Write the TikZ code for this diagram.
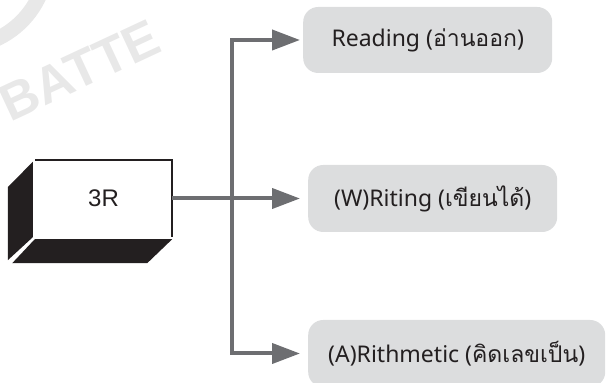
\documentclass[tikz,border=0pt]{standalone}
\usepackage{fontspec}
\setmainfont{Noto Sans}
\newfontfamily\thaifont[Script=Thai]{Loma}
\newfontfamily\boxfont{Liberation Sans}
\usetikzlibrary{arrows.meta}
\definecolor{linkgray}{HTML}{6D6E71}
\definecolor{boxgray}{HTML}{DCDDDE}
\definecolor{inkgray}{HTML}{231F20}
\definecolor{wmgray}{HTML}{E8E8E8}

\begin{document}
\begin{tikzpicture}[x=1pt,y=1pt,
    front/.style={minimum width=137pt,minimum height=77pt,inner sep=0pt,text=inkgray,
      font=\boxfont\fontsize{24}{28}\selectfont},
    item/.style={anchor=west,rounded corners=15pt,fill=boxgray,minimum height=66pt,
      text=inkgray,font=\fontsize{23}{26}\selectfont},
    link/.style={draw=linkgray,line width=4pt},
    tip/.style={-{Triangle[length=28pt,width=20pt]}}]
   \useasboundingbox (0,0) rectangle (609,382);
   \clip (0,0) rectangle (609,382);

   % watermark
   \draw[wmgray,line width=15pt] (-40,422) circle (87);
   \node[rotate=25,text=wmgray,font=\boxfont\bfseries\fontsize{52}{52}\selectfont] (wm) at (80,312) {BATTE};

   % the 3R block
   \node[front] (rr) at (103.5,183.5) {3R};
   \fill[inkgray] ([shift={(-2,-2)}]rr.north west) -- ([shift={(-2,0)}]rr.south west)
      -- ++(-25,-23) -- ++(0,73) -- cycle;
   \fill[inkgray] ([yshift=-2]rr.south west) -- ([yshift=-2]rr.south east)
      -- ++(-25,-24) -- ++(-135,0) -- cycle;
   \draw[inkgray,line width=1.5pt] (rr.south east) -- (rr.north east) -- (rr.north west);

   % the three Rs
   \node[item,minimum width=249pt] (reading) at (303,342) {Reading ({\thaifont อ่านออก})};
   \node[item,minimum width=249pt,minimum height=67pt] (writing) at (308,183.5) {(W)Riting ({\thaifont เขียนได้})};
   \node[item,minimum width=297pt,minimum height=67pt] (arith) at (308,28.5) {(A)Rithmetic ({\thaifont คิดเลขเป็น})};

   \coordinate (fork) at (232,183.5);
   \draw[link] (rr.east) -- (fork);
   \draw[link,tip,shorten >=3pt] (fork) |- (reading.west);
   \draw[link,tip,shorten >=8pt] (fork) -- (writing.west);
   \draw[link,tip,shorten >=8pt] (fork) |- (arith.west);
\end{tikzpicture}
\end{document}
